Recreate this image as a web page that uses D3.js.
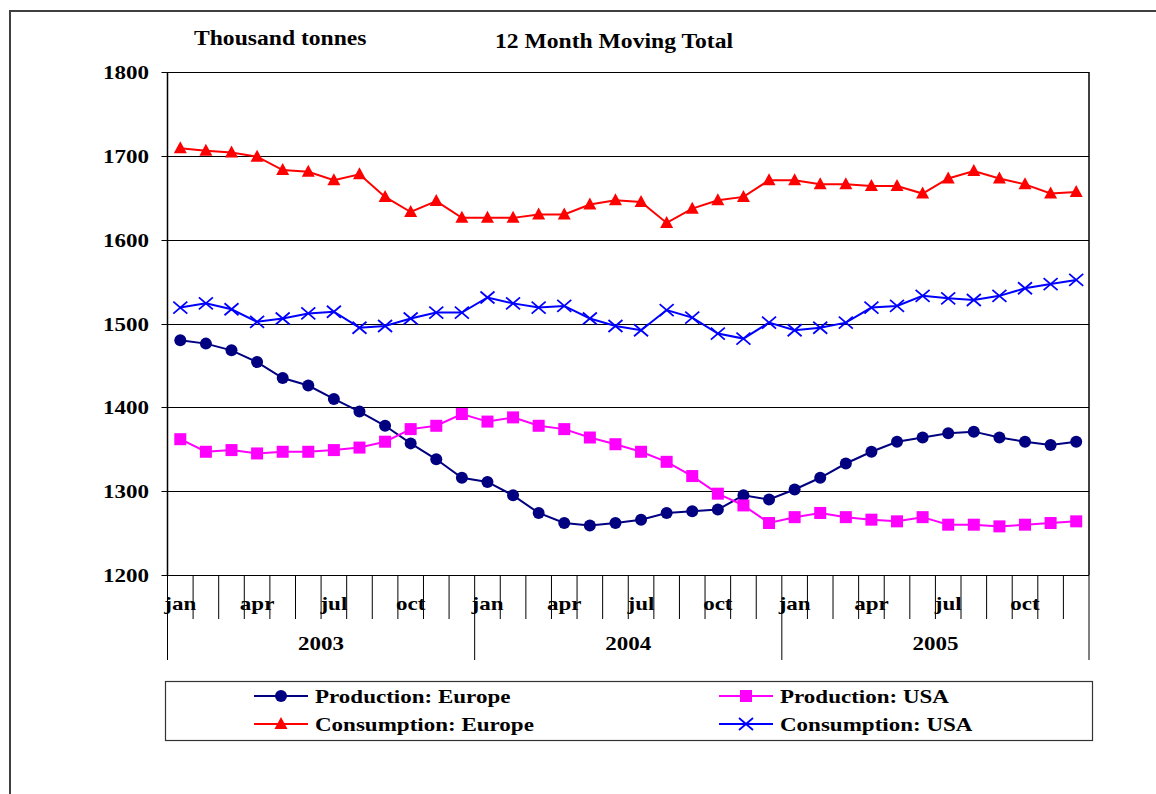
<!DOCTYPE html>
<html>
<head>
<meta charset="utf-8">
<script src="https://cdn.jsdelivr.net/npm/d3@7"></script>
<style>
  body { margin: 0; background: #fff; }
  text { font-family: "Liberation Serif", "Times New Roman", serif; font-weight: bold; fill: #000; }
</style>
</head>
<body>
<script>
var years = ["2003", "2004", "2005"];
var monthNames = ["jan", "feb", "mar", "apr", "may", "jun", "jul", "aug", "sep", "oct", "nov", "dec"];
var yTicks = [1200, 1300, 1400, 1500, 1600, 1700, 1800];

var prodEurope = [1480, 1476, 1468, 1454, 1435, 1426, 1410, 1395, 1378, 1357, 1338, 1316,
                  1311, 1295, 1274, 1262, 1259, 1262, 1266, 1274, 1276, 1278, 1295, 1290,
                  1302, 1316, 1333, 1347, 1359, 1364, 1369, 1371, 1364, 1359, 1355, 1359];
var prodUSA = [1362, 1347, 1349, 1345, 1347, 1347, 1349, 1352, 1359, 1374, 1378, 1392,
               1383, 1388, 1378, 1374, 1364, 1356, 1347, 1335, 1318, 1297, 1283, 1262,
               1269, 1274, 1269, 1266, 1264, 1269, 1260, 1260, 1258, 1260, 1262, 1264];
var consEurope = [1709, 1706, 1704, 1699, 1683, 1681, 1671, 1678, 1651, 1633, 1646, 1626,
                  1626, 1626, 1630, 1630, 1642, 1647, 1645, 1620, 1637, 1647, 1651, 1671,
                  1671, 1666, 1666, 1664, 1664, 1655, 1673, 1682, 1673, 1666, 1655, 1657];
var consUSA = [1519, 1524, 1517, 1502, 1506, 1512, 1514, 1495, 1497, 1506, 1513, 1513,
               1531, 1524, 1519, 1521, 1506, 1497, 1492, 1516, 1507, 1488, 1482, 1501,
               1492, 1495, 1501, 1519, 1521, 1533, 1530, 1528, 1533, 1542, 1547, 1552];

var series = [
  { name: "Production: Europe", values: prodEurope, color: "#000080", marker: "circle" },
  { name: "Production: USA", values: prodUSA, color: "#FF00FF", marker: "square" },
  { name: "Consumption: Europe", values: consEurope, color: "#FF0000", marker: "triangle" },
  { name: "Consumption: USA", values: consUSA, color: "#0000FF", marker: "cross" }
];

var width = 1156, height = 794;
var stretch = 1.18;

var svg = d3.select("body").append("svg")
    .attr("width", width)
    .attr("height", height);

// outer chart frame
svg.append("path")
    .attr("d", "M10,830V11H1160")
    .attr("fill", "none")
    .attr("stroke", "#404040")
    .attr("stroke-width", 2);

var plot = { left: 167.5, right: 1089, top: 72, bottom: 575 };

var months = d3.range(years.length * 12);

var x = d3.scaleBand()
    .domain(months)
    .range([plot.left, plot.right]);

var y = d3.scaleLinear()
    .domain([1200, 1800])
    .range([plot.bottom, plot.top]);

function wide(sel) {
  sel.each(function () {
    var len = this.getComputedTextLength();
    d3.select(this).attr("textLength", len * stretch).attr("lengthAdjust", "spacingAndGlyphs");
  });
  return sel;
}

// titles
svg.append("text").attr("x", 194).attr("y", 45).style("font-size", "20px")
    .text("Thousand tonnes").call(wide);
svg.append("text").attr("x", 495).attr("y", 48).style("font-size", "20px")
    .text("12 Month Moving Total").call(wide);

// gridlines
svg.append("g").selectAll("line")
    .data(yTicks)
    .enter().append("line")
    .attr("x1", plot.left - 6)
    .attr("x2", plot.right)
    .attr("y1", function (d) { return Math.round(y(d)) + 0.5; })
    .attr("y2", function (d) { return Math.round(y(d)) + 0.5; })
    .attr("stroke", "#000")
    .attr("stroke-width", 1.2);

// y labels
svg.append("g").selectAll("text")
    .data(yTicks)
    .enter().append("text")
    .attr("x", 149)
    .attr("y", function (d) { return y(d) + 7; })
    .attr("text-anchor", "end")
    .style("font-size", "19.5px")
    .text(function (d) { return d; })
    .call(wide);

// plot border: left axis and right edge
svg.append("line")
    .attr("x1", plot.left).attr("x2", plot.left)
    .attr("y1", plot.top).attr("y2", plot.bottom)
    .attr("stroke", "#000").attr("stroke-width", 1.5);
svg.append("line")
    .attr("x1", plot.right).attr("x2", plot.right)
    .attr("y1", plot.top).attr("y2", plot.bottom)
    .attr("stroke", "#000").attr("stroke-width", 1.5);

// category axis: month dividers and year dividers
var bounds = d3.range(months.length + 1);
svg.append("g").selectAll("line")
    .data(bounds)
    .enter().append("line")
    .attr("x1", function (d) { return plot.left + d * x.step(); })
    .attr("x2", function (d) { return plot.left + d * x.step(); })
    .attr("y1", plot.bottom)
    .attr("y2", function (d) { return d % 12 == 0 ? 660 : 619; })
    .attr("stroke", "#000")
    .attr("stroke-width", 1);

svg.append("g").selectAll("text")
    .data(months.filter(function (d) { return d % 3 == 0; }))
    .enter().append("text")
    .attr("x", function (d) { return x(d) + x.bandwidth() / 2; })
    .attr("y", 610)
    .attr("text-anchor", "middle")
    .style("font-size", "19.5px")
    .text(function (d) { return monthNames[d % 12]; })
    .call(wide);

svg.append("g").selectAll("text")
    .data(years)
    .enter().append("text")
    .attr("x", function (d, i) { return plot.left + (i * 12 + 6) * x.step(); })
    .attr("y", 650)
    .attr("text-anchor", "middle")
    .style("font-size", "19.5px")
    .text(function (d) { return d; })
    .call(wide);

// markers
function drawMarker(g, type, color) {
  if (type == "circle") {
    g.append("circle").attr("r", 6).attr("fill", color);
  } else if (type == "square") {
    g.append("rect").attr("x", -6).attr("y", -6).attr("width", 12).attr("height", 12).attr("fill", color);
  } else if (type == "triangle") {
    g.append("path").attr("d", "M0,-7L6.5,5L-6.5,5Z").attr("fill", color);
  } else {
    g.append("path").attr("d", "M-7,-6L7,6M-7,6L7,-6")
        .attr("stroke", color).attr("stroke-width", 1.8).attr("fill", "none");
  }
}

var line = d3.line()
    .x(function (d, i) { return x(i) + x.bandwidth() / 2; })
    .y(function (d) { return y(d); });

series.forEach(function (s) {
  var g = svg.append("g");
  g.append("path")
      .attr("d", line(s.values))
      .attr("fill", "none")
      .attr("stroke", s.color)
      .attr("stroke-width", 2);
  g.selectAll("g")
      .data(s.values)
      .enter().append("g")
      .attr("transform", function (d, i) {
        return "translate(" + (x(i) + x.bandwidth() / 2) + "," + y(d) + ")";
      })
      .each(function () { drawMarker(d3.select(this), s.marker, s.color); });
});

// legend
svg.append("rect")
    .attr("x", 165.5).attr("y", 681.5)
    .attr("width", 927).attr("height", 59)
    .attr("fill", "#fff")
    .attr("stroke", "#333")
    .attr("stroke-width", 1.2);

var legendPos = [[254, 696], [719, 696], [254, 724], [719, 724]];
series.forEach(function (s, i) {
  var g = svg.append("g").attr("transform", "translate(" + legendPos[i][0] + "," + legendPos[i][1] + ")");
  g.append("line").attr("x1", 0).attr("x2", 54).attr("stroke", s.color).attr("stroke-width", 2);
  var m = g.append("g").attr("transform", "translate(27,0)");
  drawMarker(m, s.marker, s.color);
  g.append("text").attr("x", 61).attr("y", 6.5)
      .style("font-size", "19.5px")
      .text(s.name)
      .call(wide);
});
</script>
</body>
</html>
